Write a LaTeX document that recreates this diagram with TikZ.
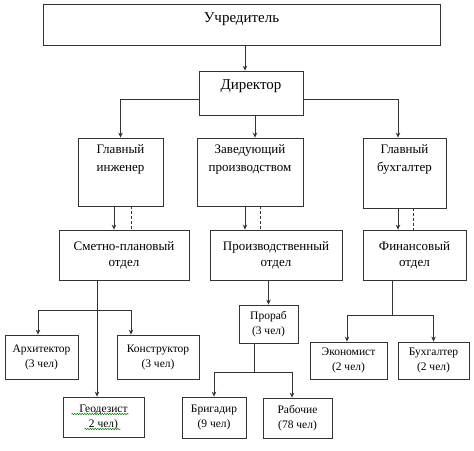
\documentclass[tikz,border=0pt]{standalone}
\usepackage{fontspec}
\setmainfont{Liberation Serif}
\usetikzlibrary{arrows.meta,decorations.pathmorphing}

\newcommand\headfont{\fontsize{15}{18}\selectfont}
\newcommand\midfont{\fontsize{13}{17.5}\selectfont}
\newcommand\deptfont{\fontsize{13}{16}\selectfont}
\newcommand\smallfont{\fontsize{11.5}{15}\selectfont}

\tikzset{
  box/.style={draw=black!80, line width=0.8pt, rectangle, inner sep=0pt, align=center, font=\deptfont},
  smallbox/.style={box, font=\smallfont},
  toptext/.style n args={2}{label={[align=center, anchor=north, inner sep=0pt, yshift=-#1, font=\midfont]north:#2}},
  ln/.style={draw=black!80, line width=0.8pt},
  arr/.style={ln, -{Stealth[length=5pt,width=4.5pt]}},
  dashln/.style={ln, dash pattern=on 3pt off 2pt},
  spell/.style={draw=green!50!black, line width=0.5pt, decorate, decoration={snake, amplitude=0.7pt, segment length=2.5pt}}
}

\begin{document}
\begin{tikzpicture}[x=1pt, y=-1pt]
\useasboundingbox (0,0) rectangle (474,450);

% levels 0-1
\node[box, minimum width=397pt, minimum height=41pt, toptext={9pt}{\headfont Учредитель}] (uchr) at (241.5,24.5) {};
\node[box, minimum width=104pt, minimum height=44pt, toptext={9pt}{\headfont Директор}] (dir) at (251,93) {};

% level 2
\node[box, minimum width=85pt, minimum height=68pt, toptext={7pt}{Главный\\инженер}] (eng) at (120.5,172) {};
\node[box, minimum width=106pt, minimum height=68pt, toptext={7pt}{Заведующий\\производством}] (zav) at (250,172) {};
\node[box, minimum width=83pt, minimum height=70pt, toptext={7pt}{Главный\\бухгалтер}] (buh) at (404.5,173) {};

% level 3
\node[box, minimum width=130pt, minimum height=50pt] (smet) at (124,255) {Сметно-плановый\\отдел};
\node[box, minimum width=132pt, minimum height=50pt] (proizv) at (276,255) {Производственный\\отдел};
\node[box, minimum width=103pt, minimum height=50pt] (fin) at (414.5,255) {Финансовый\\отдел};

% level 4
\node[smallbox, minimum width=73pt, minimum height=44pt] (arch) at (41.5,357) {Архитектор\\(3 чел)};
\node[smallbox, minimum width=82pt, minimum height=44pt] (konstr) at (158,357) {Конструктор\\(3 чел)};
\node[smallbox, minimum width=81pt, minimum height=40pt] (geo) at (103.5,417) {Геодезист\\2 чел)};
\node[smallbox, minimum width=59pt, minimum height=38pt] (prorab) at (268.5,324) {Прораб\\(3 чел)};
\node[smallbox, minimum width=64pt, minimum height=41pt] (brig) at (214,417.5) {Бригадир\\(9 чел)};
\node[smallbox, minimum width=69pt, minimum height=40pt] (rab) at (297.5,418) {Рабочие\\(78 чел)};
\node[smallbox, minimum width=77pt, minimum height=37pt] (ekon) at (348.5,360.5) {Экономист\\(2 чел)};
\node[smallbox, minimum width=71pt, minimum height=37pt] (bux) at (433.5,360.5) {Бухгалтер\\(2 чел)};

% spell-check marks
\draw[spell] ([shift={(-32pt,3pt)}]geo.center) -- ++(57pt,0pt);
\draw[spell] ([shift={(-19pt,-12pt)}]geo.center) -- ++(36pt,0pt);

% connectors
\draw[arr] ([xshift=3.5pt]uchr.south) -- ([xshift=3.5pt]uchr.south |- dir.north);
\draw[arr] ([yshift=-6pt]dir.west) -| (eng.north);
\draw[arr] ([xshift=4pt]dir.south) -- ([xshift=4pt]dir.south |- zav.north);
\draw[arr] ([yshift=-6pt]dir.east) -| ([xshift=-6.5pt]buh.north);

\draw[arr] ([xshift=-6.5pt]eng.south) -- ([xshift=-6.5pt]eng.south |- smet.north);
\draw[dashln] ([xshift=10.5pt]eng.south) -- ([xshift=10.5pt]eng.south |- smet.north);
\draw[arr] ([xshift=-5pt]zav.south) -- ([xshift=-5pt]zav.south |- proizv.north);
\draw[dashln] ([xshift=10pt]zav.south) -- ([xshift=10pt]zav.south |- proizv.north);
\draw[arr] ([xshift=-6.5pt]buh.south) -- ([xshift=-6.5pt]buh.south |- fin.north);
\draw[dashln] ([xshift=8.5pt]buh.south) -- ([xshift=8.5pt]buh.south |- fin.north);

\coordinate (sm) at ([xshift=-27pt]smet.south);
\coordinate (smj) at ([yshift=-30pt]sm);
\draw[arr] (sm) -- (sm |- geo.north);
\draw[arr] (smj) -| ([xshift=-3.5pt]arch.north);
\draw[arr] (smj) -| ([xshift=-27pt]konstr.north);

\draw[arr] (prorab.north |- proizv.south) -- (prorab.north);
\coordinate (pr) at ([xshift=-14.5pt]prorab.south);
\coordinate (prj) at ([yshift=-29pt]pr);
\draw[ln] (pr) -- (prj);
\draw[arr] (prj) -| (brig.north);
\draw[arr] (prj) -| ([xshift=-5.5pt]rab.north);

\coordinate (fn) at ([xshift=-22.5pt]fin.south);
\coordinate (fnj) at ([yshift=-35pt]fn);
\draw[ln] (fn) -- (fnj);
\draw[arr] (fnj) -| ([xshift=-1.5pt]ekon.north);
\draw[arr] (fnj) -| (bux.north);
\end{tikzpicture}
\end{document}
